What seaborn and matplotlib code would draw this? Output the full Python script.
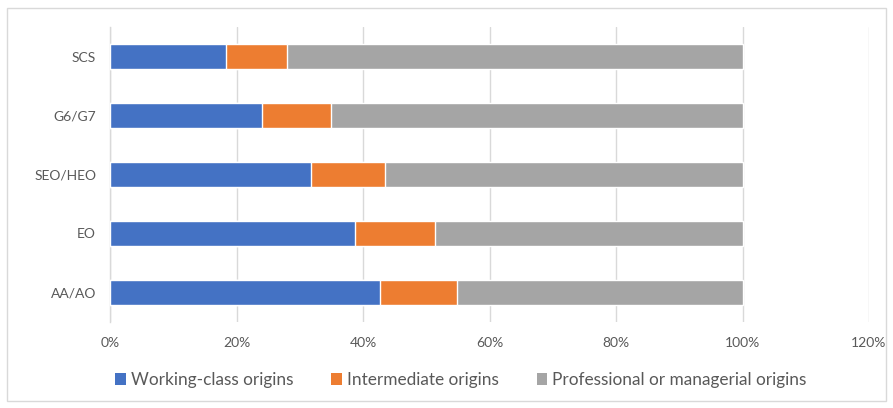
import matplotlib
matplotlib.use("Agg")
import matplotlib.pyplot as plt
import seaborn as sns
import pandas as pd
from matplotlib.patches import Rectangle, Patch
from matplotlib.ticker import PercentFormatter

# Civil service grades and social-origin shares (percent)
grades = ["SCS", "G6/G7", "SEO/HEO", "EO", "AA/AO"]
working_class = [18.4, 24.1, 31.7, 38.8, 42.7]
intermediate = [9.6, 10.9, 11.8, 12.6, 12.2]
professional = [72.0, 65.0, 56.5, 48.6, 45.1]

series_names = ["Working-class origins", "Intermediate origins",
                "Professional or managerial origins"]
colors = ["#4472C4", "#ED7D31", "#A5A5A5"]

df = pd.DataFrame({
    "grade": grades,
    "working": working_class,
    "intermediate": intermediate,
    "professional": professional,
})
# cumulative right edges for stacking
df["cum_work"] = df["working"] / 100
df["cum_inter"] = (df["working"] + df["intermediate"]) / 100
df["cum_all"] = (df["working"] + df["intermediate"] + df["professional"]) / 100

sns.set_theme(style="white")
plt.rcParams["font.family"] = ["Lato", "DejaVu Sans"]

fig = plt.figure(figsize=(8.93, 4.08), dpi=100)
ax = fig.add_axes([110 / 893, 1 - 322 / 408, (869 - 110) / 893, (322 - 27) / 408])

for col, c in zip(["cum_all", "cum_inter", "cum_work"], colors[::-1]):
    sns.barplot(data=df, x=col, y="grade", order=grades, color=c,
                width=0.41, orient="h", ax=ax, saturation=1, zorder=3)

ax.set_xlim(0, 1.2)
ax.set_xticks([0, 0.2, 0.4, 0.6, 0.8, 1.0, 1.2])
ax.xaxis.set_major_formatter(PercentFormatter(1.0, decimals=0))
ax.set_xlabel("")
ax.set_ylabel("")
ax.grid(axis="x", color="#D9D9D9", linewidth=1, zorder=0)
ax.set_axisbelow(True)
for s in ["top", "right", "bottom"]:
    ax.spines[s].set_visible(False)
ax.spines["left"].set_color("#D9D9D9")
ax.spines["left"].set_linewidth(1)
ax.tick_params(axis="both", length=0, labelsize=10, colors="#595959")
ax.tick_params(axis="x", pad=11)
ax.tick_params(axis="y", pad=10)

handles = [Patch(facecolor=c, edgecolor="none") for c in colors]
fig.legend(handles, series_names, loc="center", bbox_to_anchor=(461 / 893, 1 - 380 / 408),
           ncol=3, frameon=False, fontsize=12.4, handlelength=0.6, handleheight=0.75,
           handletextpad=0.3, columnspacing=2.2, labelcolor="#595959")

# outer chart frame
fig.patches.append(Rectangle((7 / 893, 7 / 408), 879 / 893, 393 / 408,
                             transform=fig.transFigure, fill=False,
                             edgecolor="#D9D9D9", linewidth=1))

fig.savefig("out.png", dpi=100)
